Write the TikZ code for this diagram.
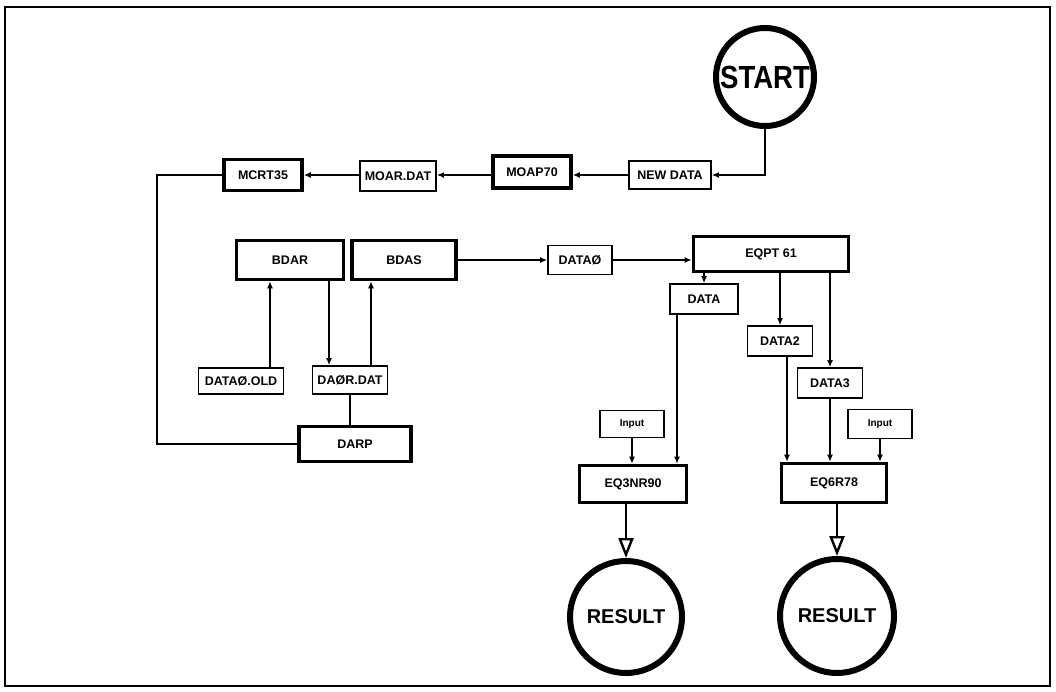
\documentclass[tikz,border=0pt]{standalone}
\usepackage{fontspec}
\setmainfont{Liberation Sans}
\usetikzlibrary{arrows.meta,calc}
\begin{document}
\begin{tikzpicture}[x=1pt,y=-1pt,
  lbl/.style={font=\bfseries\fontsize{12.5}{12.5}\selectfont},
  thinbox/.style={draw,line width=1.8pt,inner sep=0pt,lbl},
  thickbox/.style={draw,line width=3.6pt,inner sep=0pt,lbl},
  term/.style={draw,circle,line width=6pt,inner sep=0pt},
  conn/.style={line width=1.6pt},
  arr/.style={conn,-{Latex[length=7pt,width=6pt]}},
  bigarr/.style={conn,-{Triangle[open,length=20pt,width=15pt,line width=2.4pt]}},
]
\useasboundingbox (0,0) rectangle (1056,691);
\draw[line width=1.4pt] (5,7) rectangle (1050,686);

% terminals
\node[term,minimum size=98pt,font=\bfseries\fontsize{32}{32}\selectfont] (start) at (765,77) {\scalebox{0.86}[1]{START}};
\node[term,minimum size=112pt,font=\bfseries\fontsize{20}{20}\selectfont] (res1) at (626,617) {RESULT};
\node[term,minimum size=114pt,font=\bfseries\fontsize{20}{20}\selectfont] (res2) at (837,616) {RESULT};

% top row
\node[thinbox,minimum width=82pt,minimum height=28pt] (newdata) at (670,175) {NEW DATA};
\node[thickbox,minimum width=78pt,minimum height=32pt] (moap) at (532,172) {MOAP70};
\node[thinbox,minimum width=76pt,minimum height=30pt] (moar) at (398,176) {MOAR.DAT};
\node[thickbox,minimum width=78pt,minimum height=31pt] (mcrt) at (263,175) {MCRT35};

% left group
\node[thickbox,minimum width=107pt,minimum height=39pt] (bdar) at (290,260) {BDAR};
\node[thickbox,minimum width=104pt,minimum height=39pt] (bdas) at (404,260) {BDAS};
\node[thinbox,minimum width=85pt,minimum height=26pt] (data0old) at (241,381) {DATAØ.OLD};
\node[thinbox,minimum width=75pt,minimum height=28pt] (daordat) at (350,380) {DAØR.DAT};
\node[thickbox,minimum width=112pt,minimum height=35pt] (darp) at (355,444) {DARP};

% right group
\node[thinbox,minimum width=64pt,minimum height=29pt] (data0) at (580,260) {DATAØ};
\node[thickbox,minimum width=155pt,minimum height=35pt] (eqpt) at (771,254) {EQPT 61};
\node[thinbox,minimum width=68pt,minimum height=30pt] (data) at (704,299) {DATA};
\node[thinbox,minimum width=65pt,minimum height=30pt] (data2) at (780,341) {DATA2};
\node[thinbox,minimum width=65pt,minimum height=30pt] (data3) at (830,383) {DATA3};
\node[thinbox,minimum width=64pt,minimum height=27pt,font=\bfseries\fontsize{10}{10}\selectfont] (inputL) at (632,424) {Input};
\node[thinbox,minimum width=64pt,minimum height=29pt,font=\bfseries\fontsize{10}{10}\selectfont] (inputR) at (880,424) {Input};
\node[thickbox,minimum width=107pt,minimum height=37pt] (eq3) at (633,484) {EQ3NR90};
\node[thickbox,minimum width=105pt,minimum height=39pt] (eq6) at (834,483) {EQ6R78};

% helper x positions
\coordinate (xA) at (270,0);
\coordinate (xB) at (329,0);
\coordinate (xC) at (371,0);
\coordinate (xD) at (677,0);
\coordinate (xE) at (787,0);
\coordinate (lc) at (157,175);

% top row connectors
\draw[arr] (start.south) |- (newdata.east);
\draw[arr] (newdata.west) -- (newdata.west -| moap.east);
\draw[arr] (newdata.west -| moap.west) -- (newdata.west -| moar.east);
\draw[arr] (newdata.west -| moar.west) -- (mcrt.east);
\draw[conn] (mcrt.west) -- (mcrt.west -| lc) |- (darp.west);

% left group connectors
\draw[arr] (data0old.north -| xA) -- (bdar.south -| xA);
\draw[arr] (bdar.south -| xB) -- (daordat.north -| xB);
\draw[arr] (daordat.north -| xC) -- (bdas.south -| xC);
\draw[conn] (daordat.south) -- (daordat.south |- darp.north);

% right group connectors
\draw[arr] (bdas.east) -- (data0.west);
\draw[arr] (data0.east) -- (data0.east -| eqpt.west);
\draw[arr] (eqpt.south -| data.north) -- (data.north);
\draw[arr] (eqpt.south -| data2.north) -- (data2.north);
\draw[arr] (eqpt.south -| data3.north) -- (data3.north);
\draw[arr] (data.south -| xD) -- (eq3.north -| xD);
\draw[arr] (inputL.south) -- (inputL.south |- eq3.north);
\draw[arr] (data2.south -| xE) -- (eq6.north -| xE);
\draw[arr] (data3.south) -- (data3.south |- eq6.north);
\draw[arr] (inputR.south) -- (inputR.south |- eq6.north);
\draw[bigarr] (eq3.south -| res1.north) -- (res1.north);
\draw[bigarr] (eq6.south -| res2.north) -- (res2.north);
\end{tikzpicture}
\end{document}
